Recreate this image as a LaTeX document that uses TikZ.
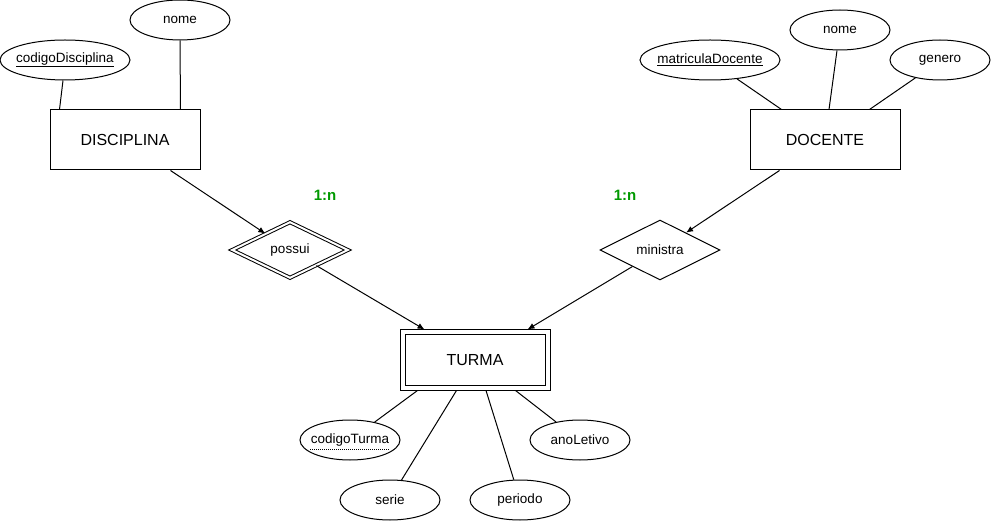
\documentclass[tikz,border=0pt]{standalone}
\usepackage{fontspec}
\setmainfont{Liberation Sans}
\usetikzlibrary{shapes.geometric,arrows.meta,calc}
\definecolor{relgreen}{HTML}{009900}
\newcommand{\atxt}[1]{\makebox[0pt]{#1}}
\begin{document}
\begin{tikzpicture}[x=1pt,y=-1pt,
  ent/.style={draw,line width=1pt,minimum width=150pt,minimum height=60pt,inner sep=0pt,font=\fontsize{16}{19}\selectfont},
  entin/.style={draw,line width=1pt,minimum width=140pt,minimum height=50pt,inner sep=0pt,font=\fontsize{16}{19}\selectfont},
  attr/.style={draw,ellipse,line width=1pt,minimum width=100pt,minimum height=40pt,inner sep=0pt,font=\fontsize{13.5}{16}\selectfont},
  rel/.style={draw,diamond,aspect=2,line width=1pt,minimum width=120pt,minimum height=60pt,inner sep=0pt,font=\fontsize{13.5}{16}\selectfont},
  wrel/.style={rel,double,double distance=2pt,minimum width=116pt,minimum height=56pt},
  conn/.style={line width=1pt},
  arr/.style={line width=1pt,-{Latex[length=7pt,width=6pt]}},
  card/.style={text=relgreen,font=\bfseries\fontsize{15}{18}\selectfont}]
\useasboundingbox (0,0) rectangle (991,521);

% DISCIPLINA
\node[ent] (disc) at (125,140) {DISCIPLINA};
\node[attr,minimum width=130pt] (cd) at (65,60) {\atxt{\underline{codigoDisciplina}}};
\node[attr] (n1) at (180,20) {\atxt{nome}};
\draw[conn] ($(cd.south)+(-2,0)$) -- ($(disc.north west)+(10,0)$);
\draw[conn] (n1.south) -- ($(disc.north east)+(-20,0)$);

% DOCENTE
\node[ent] (doc) at (825,140) {DOCENTE};
\node[attr,minimum width=140pt] (md) at (710,60) {\atxt{\underline{matriculaDocente}}};
\node[attr] (n2) at (840,30) {\atxt{nome}};
\node[attr] (ge) at (940,60) {\atxt{genero}};
\draw[conn] (md.-35) -- ($(doc.north west)+(32,0)$);
\draw[conn] ($(n2.south)+(-3,0)$) -- ($(doc.north)+(4,0)$);
\draw[conn] (ge.-144) -- ($(doc.north east)+(-31,0)$);

% relationships
\node[wrel] (ps) at (290,250) {possui};
\node[rel] (mi) at (660,250) {ministra};
\node[card] (c1) at (325,195) {1:n};
\node[card] (c2) at (625,195) {1:n};

% TURMA
\node[ent] (tu) at (475,360) {};
\node[entin] (tui) at (475,360) {TURMA};

\draw[arr] ($(disc.south east)+(-30,0)$) -- (ps);
\draw[arr] (ps) -- ($(tu.north west)+(25,0)$);
\draw[arr] ($(doc.south west)+(30,0)$) -- (mi);
\draw[arr] (mi) -- ($(tu.north east)+(-23,0)$);

% TURMA attributes
\node[attr] (ct) at (350,440) {\atxt{codigoTurma}};
\node[attr] (se) at (390,500) {\atxt{serie}};
\node[attr] (pe) at (520,500) {\atxt{periodo}};
\node[attr] (an) at (580,440) {\atxt{anoLetivo}};
\draw[line width=1pt,dash pattern=on 1pt off 1pt] ($(ct.center)+(-40,9.5)$) -- ($(ct.center)+(40,9.5)$);
\draw[conn] ($(tu.south west)+(18,0)$) -- (ct.36);
\draw[conn] ($(tu.south west)+(57,0)$) -- (se.60);
\draw[conn] ($(tu.south)+(11,0)$) -- (pe.107);
\draw[conn] ($(tu.south east)+(-35,0)$) -- (an.143);
\end{tikzpicture}
\end{document}
